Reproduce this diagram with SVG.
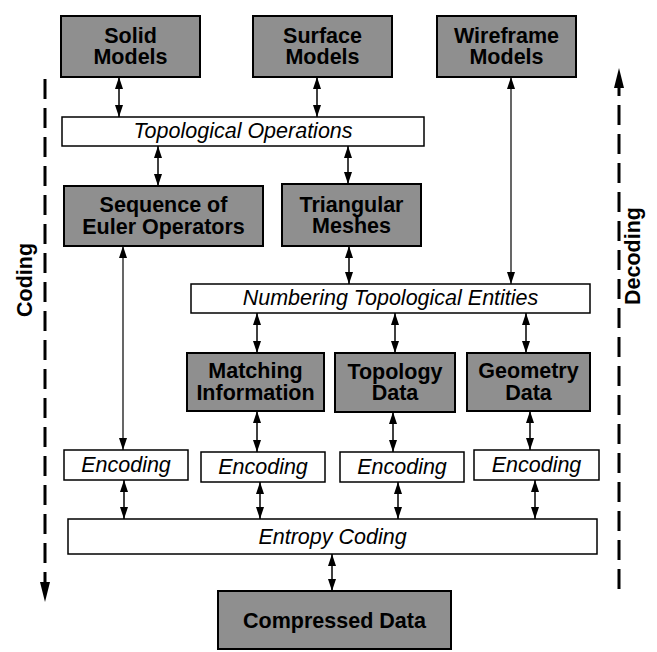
<svg xmlns="http://www.w3.org/2000/svg" width="657" height="652" viewBox="0 0 657 652">
<style>
.g rect{fill:#8f8f8f;stroke:#000;stroke-width:2}
.w rect{fill:#fff;stroke:#000;stroke-width:1.5}
.g text{font-family:"Liberation Sans",Arial,sans-serif;font-weight:bold;font-size:21.5px;text-anchor:middle;fill:#000}
.w text{font-family:"Liberation Sans",Arial,sans-serif;font-style:italic;font-size:21.5px;text-anchor:middle;fill:#000}
.side{font-family:"Liberation Sans",Arial,sans-serif;font-weight:bold;font-size:21.5px;text-anchor:middle;fill:#000}
#connectors line{stroke:#000;stroke-width:1.5;marker-start:url(#ah);marker-end:url(#ah)}
#connectors line.thin{stroke-width:1.2}
.dash{stroke:#000;stroke-width:3;stroke-dasharray:20 9;fill:none}
</style>
<defs>
<marker id="ah" viewBox="0 0 12 8" refX="12" refY="4" markerWidth="12" markerHeight="8" markerUnits="userSpaceOnUse" orient="auto-start-reverse">
<path d="M0,0 L12,4 L0,8 z" fill="#000"/>
</marker>
</defs>
<rect width="657" height="652" fill="#fff"/>

<g id="solid" class="g"><rect x="61" y="16" width="139" height="61"/><text x="130.5" y="43">Solid</text><text x="130.5" y="64">Models</text></g>
<g id="surface" class="g"><rect x="253" y="16" width="139" height="61"/><text x="322.5" y="43">Surface</text><text x="322.5" y="64">Models</text></g>
<g id="wireframe" class="g"><rect x="437" y="16" width="139" height="61"/><text x="506.5" y="43">Wireframe</text><text x="506.5" y="64">Models</text></g>

<g id="topo" class="w"><rect x="62" y="117" width="362" height="29"/><text x="243" y="138">Topological Operations</text></g>

<g id="euler" class="g"><rect x="64" y="186" width="199" height="60"/><text x="163.5" y="212">Sequence of</text><text x="163.5" y="234">Euler Operators</text></g>
<g id="triangular" class="g"><rect x="282" y="184" width="139" height="62"/><text x="351.5" y="212">Triangular</text><text x="351.5" y="233">Meshes</text></g>

<g id="numbering" class="w"><rect x="191" y="284" width="399" height="29"/><text x="390.5" y="305">Numbering Topological Entities</text></g>

<g id="matching" class="g"><rect x="187" y="353" width="137" height="58"/><text x="255.5" y="378">Matching</text><text x="255.5" y="400">Information</text></g>
<g id="topology" class="g"><rect x="335" y="353" width="120" height="59"/><text x="395" y="379">Topology</text><text x="395" y="400">Data</text></g>
<g id="geometry" class="g"><rect x="467" y="353" width="123" height="58"/><text x="528.5" y="378">Geometry</text><text x="528.5" y="400">Data</text></g>

<g id="enc1" class="w"><rect x="64" y="450" width="124" height="30"/><text x="126" y="472">Encoding</text></g>
<g id="enc2" class="w"><rect x="201" y="452" width="124" height="30"/><text x="263" y="474">Encoding</text></g>
<g id="enc3" class="w"><rect x="340" y="452" width="124" height="30"/><text x="402" y="474">Encoding</text></g>
<g id="enc4" class="w"><rect x="474" y="450" width="125" height="30"/><text x="536.5" y="472">Encoding</text></g>

<g id="entropy" class="w"><rect x="68" y="519" width="529" height="35"/><text x="332.5" y="544">Entropy Coding</text></g>

<g id="compressed" class="g"><rect x="218" y="591" width="233" height="58"/><text x="334.5" y="628">Compressed Data</text></g>

<g id="connectors">
<line x1="119" y1="77" x2="119" y2="117"/>
<line x1="317" y1="77" x2="317" y2="117"/>
<line x1="158" y1="146" x2="158" y2="186"/>
<line x1="348" y1="146" x2="348" y2="184"/>
<line class="thin" x1="511" y1="77" x2="511" y2="284"/>
<line x1="349" y1="246" x2="349" y2="284"/>
<line class="thin" x1="123" y1="246" x2="123" y2="450"/>
<line x1="257" y1="313" x2="257" y2="353"/>
<line x1="395" y1="313" x2="395" y2="353"/>
<line x1="526" y1="313" x2="526" y2="353"/>
<line x1="257" y1="411" x2="257" y2="452"/>
<line x1="393" y1="412" x2="393" y2="452"/>
<line x1="530" y1="411" x2="530" y2="450"/>
<line x1="124" y1="480" x2="124" y2="519"/>
<line x1="260" y1="482" x2="260" y2="519"/>
<line x1="398" y1="482" x2="398" y2="519"/>
<line x1="535" y1="480" x2="535" y2="519"/>
<line x1="332" y1="554" x2="332" y2="591"/>
</g>

<g id="coding">
<line class="dash" x1="45" y1="79" x2="45" y2="582"/>
<polygon points="40,582 50,582 45,602" fill="#000"/>
<text class="side" transform="translate(32,280) rotate(-90)">Coding</text>
</g>
<g id="decoding">
<line class="dash" x1="619" y1="589" x2="619" y2="88"/>
<polygon points="614,88 624,88 619,68" fill="#000"/>
<text class="side" transform="translate(640,256) rotate(-90)">Decoding</text>
</g>
</svg>
